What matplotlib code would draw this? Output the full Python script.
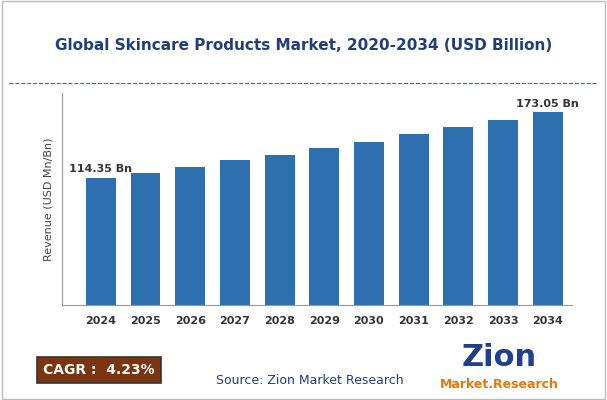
import matplotlib.pyplot as plt
from matplotlib.patches import Rectangle

years = ['2024', '2025', '2026', '2027', '2028', '2029', '2030', '2031', '2032', '2033', '2034']
revenue = [114.35, 118.4, 123.7, 130.0, 134.5, 140.8, 146.2, 153.3, 159.6, 166.0, 173.05]

bar_color = '#2e6faf'

fig = plt.figure(figsize=(6.07, 4.0), dpi=100)
fig.patches.append(Rectangle((0.003, 0.003), 0.994, 0.994, transform=fig.transFigure,
                             fill=False, edgecolor='#bbbbbb', linewidth=1))

ax = fig.add_axes([0.102, 0.237, 0.84, 0.53])
ax.bar(range(len(years)), revenue, width=0.67, color=bar_color)
ax.set_xlim(-0.87, len(years) - 0.46)
ax.set_ylim(0, 190)
ax.set_xticks(range(len(years)))
ax.set_xticklabels(years, fontsize=8, fontweight='bold', color='#333333')
ax.set_yticks([])
ax.tick_params(axis='x', length=0, pad=8)
for s in ['top', 'right']:
    ax.spines[s].set_visible(False)
ax.spines['left'].set_color('#999999')
ax.spines['bottom'].set_color('#999999')
ax.set_ylabel('Revenue (USD Mn/Bn)', fontsize=8, color='#444444', labelpad=6)

ax.text(0, revenue[0] + 3, '114.35 Bn', ha='center', va='bottom', fontsize=8, fontweight='bold', color='#333333')
ax.text(10, revenue[-1] + 3, '173.05 Bn', ha='center', va='bottom', fontsize=8, fontweight='bold', color='#333333')

fig.text(0.5, 0.885, 'Global Skincare Products Market, 2020-2034 (USD Billion)', ha='center', va='center',
         fontsize=11, fontweight='bold', color='#1f3f7a')
fig.lines.append(plt.Line2D([0.015, 0.985], [0.793, 0.793], transform=fig.transFigure,
                            color='#2e6faf', linestyle='--', linewidth=0.8))

fig.text(0.163, 0.075, 'CAGR :  4.23%', ha='center', va='center', fontsize=10, fontweight='bold', color='white',
         bbox=dict(boxstyle='square,pad=0.45', facecolor='#7b3410', edgecolor='#333333', linewidth=1.2))
fig.text(0.51, 0.048, 'Source: Zion Market Research', ha='center', va='center', fontsize=9, color='#1f3f7a')
fig.text(0.822, 0.105, 'Zion', ha='center', va='center', fontsize=22, fontweight='bold', color='#1f3f8a')
fig.text(0.822, 0.04, 'Market.Research', ha='center', va='center', fontsize=9, fontweight='bold', color='#e07a10')

fig.savefig('out.png', dpi=100)
